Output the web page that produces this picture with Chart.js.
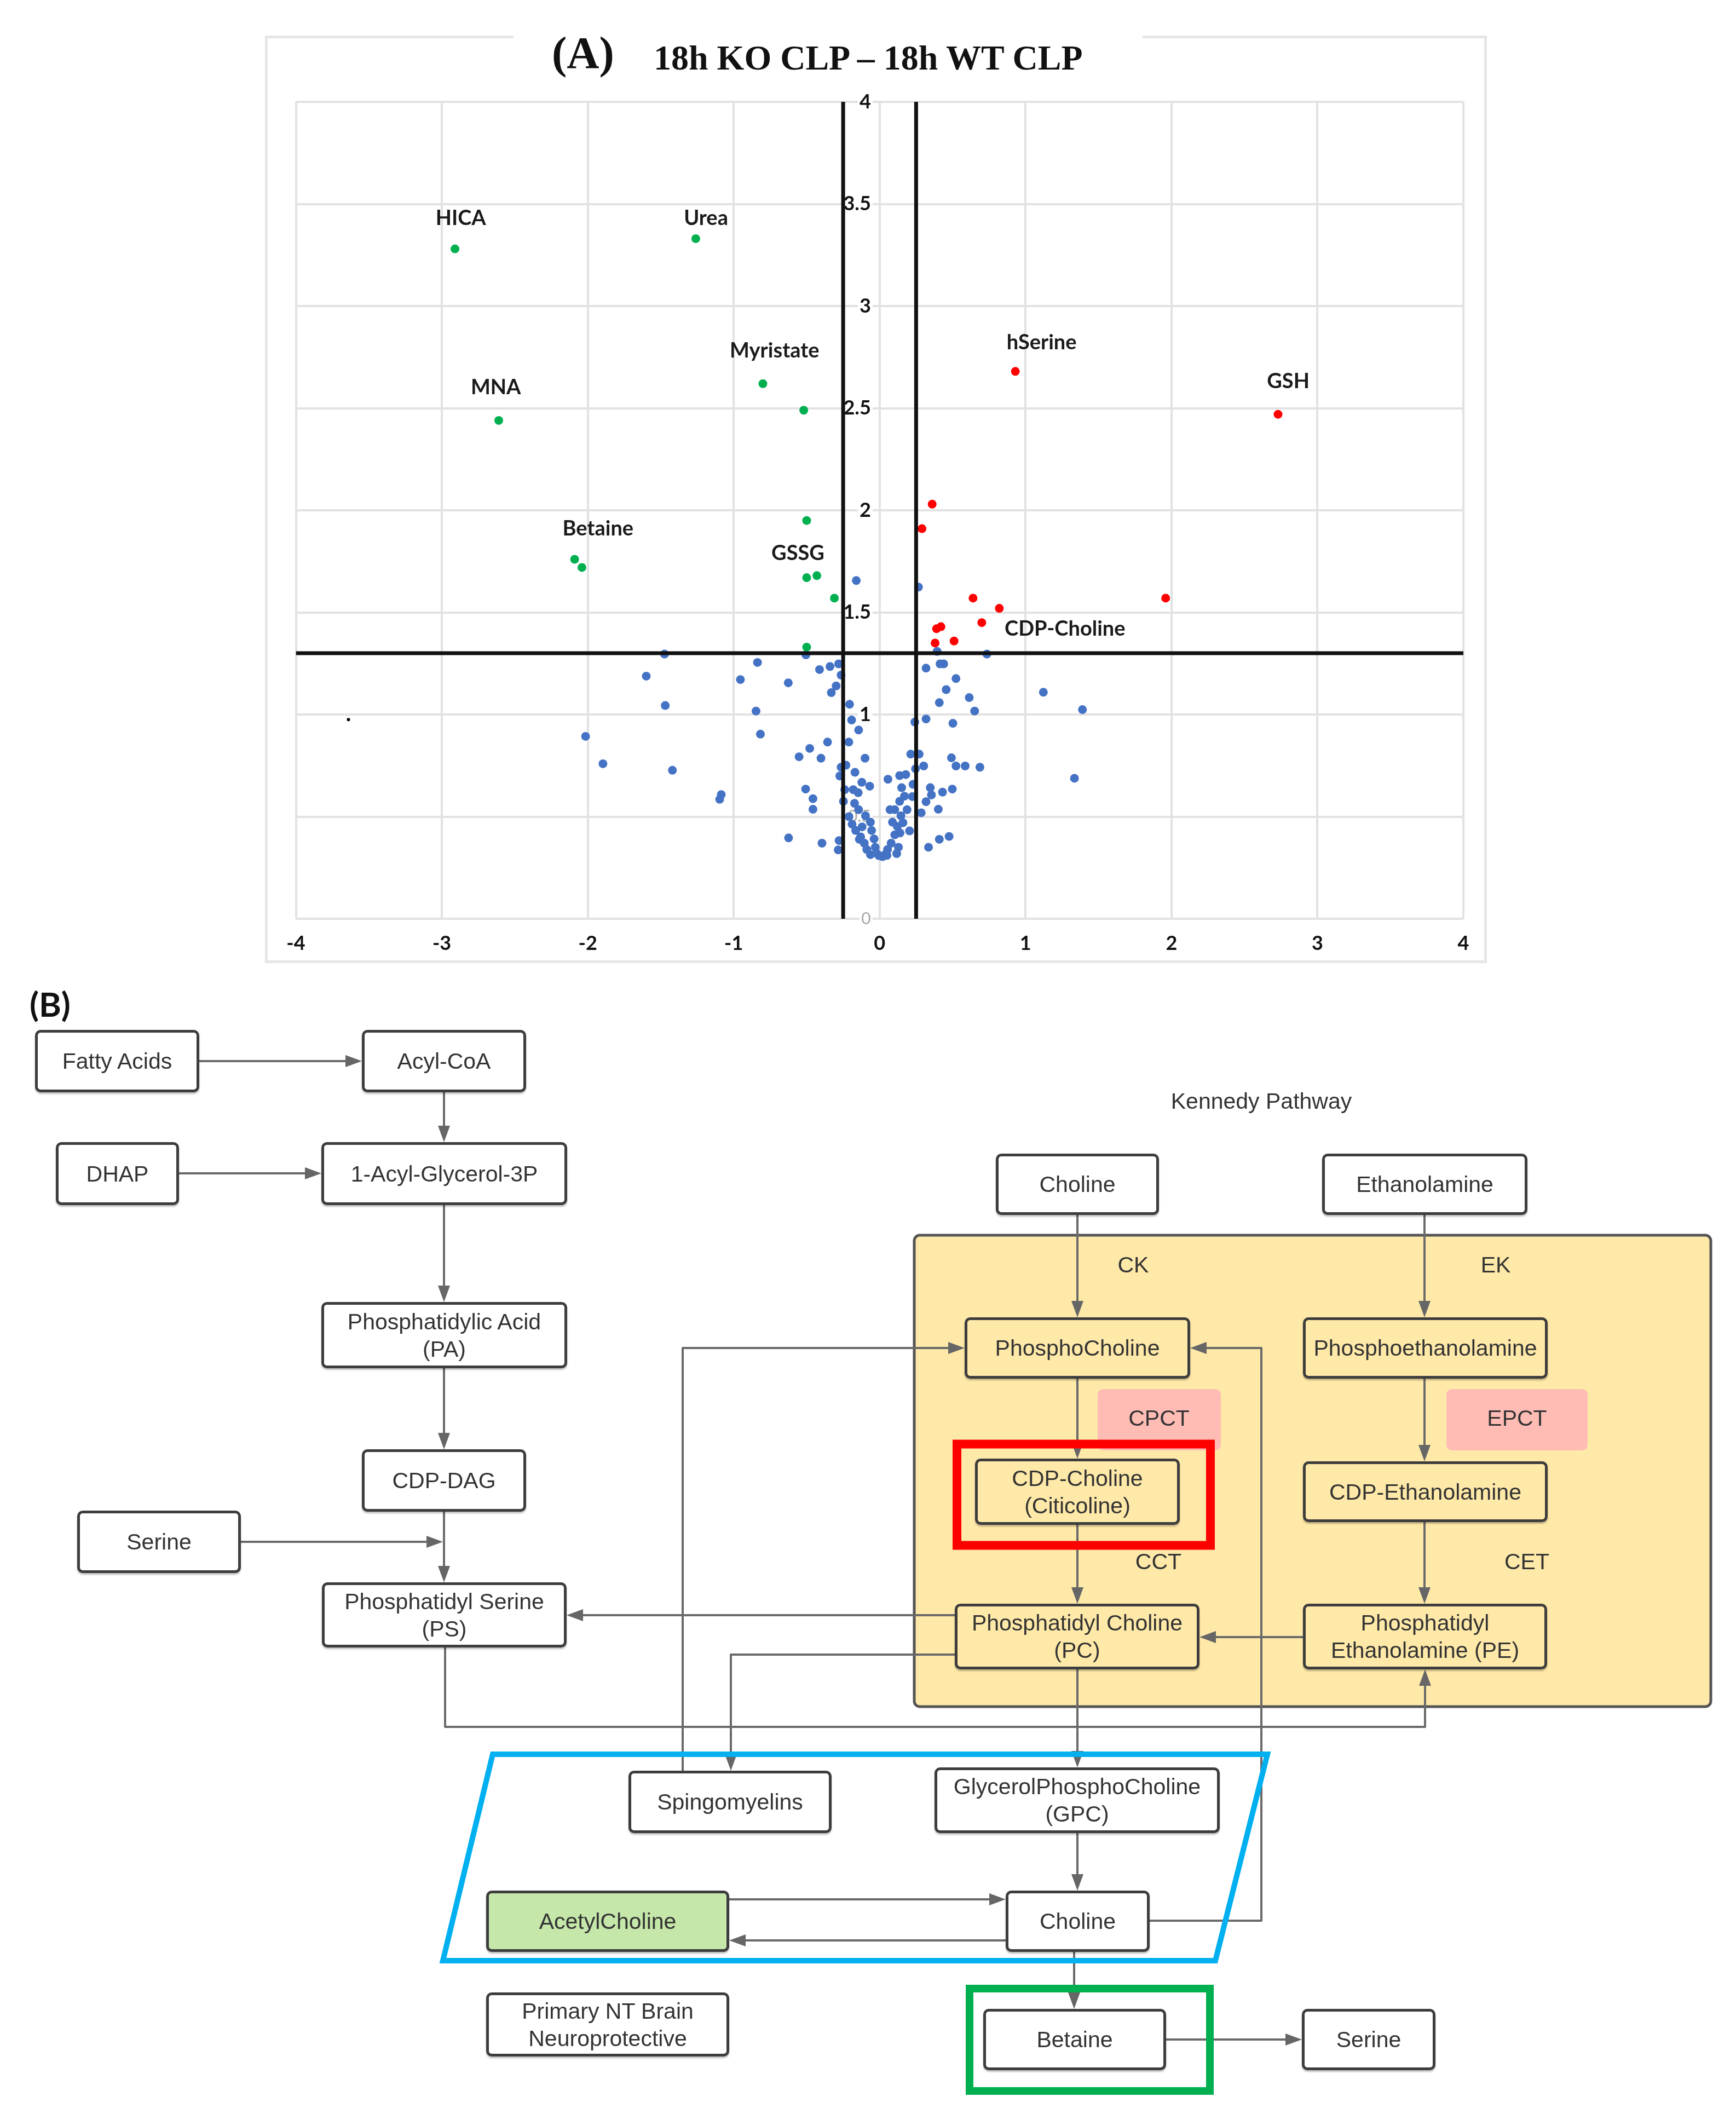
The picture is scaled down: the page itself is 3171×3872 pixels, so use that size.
<!DOCTYPE html>
<html>
<head>
<meta charset="utf-8">
<script src="https://cdn.jsdelivr.net/npm/chart.js"></script>
<style>
  html, body { margin: 0; padding: 0; background: #fff; }
  #page { position: relative; width: 3171px; height: 3872px; overflow: hidden; background: #fff; }
  .frame { position: absolute; left: 484px; top: 65px; width: 2232px; height: 1694px; border: 5px solid #e6e6e6; box-sizing: border-box; }
  #plotBox { position: absolute; left: 489px; top: 70px; width: 2222px; height: 1684px; }
  .gap { position: absolute; left: 938px; top: 58px; width: 1149px; height: 24px; background: #fff; }
  .ttl { position: absolute; font-family: "Liberation Serif", "Times New Roman", serif; font-weight: bold; color: #111; line-height: 1; white-space: nowrap; }
  svg { position: absolute; left: 0; top: 0; }
  .box { position: absolute; box-sizing: border-box; border: 5px solid #3d3d3d; border-radius: 10px;
         display: flex; align-items: center; justify-content: center; text-align: center;
         font-family: "Liberation Sans", Arial, sans-serif; font-size: 41px; line-height: 50px; color: #333;
         box-shadow: 0 3px 3px rgba(0,0,0,0.25); }
  .lbl { position: absolute; transform: translate(-50%, -50%); font-family: "Liberation Sans", Arial, sans-serif;
         font-size: 41px; color: #333; white-space: nowrap; }
  .panel { position: absolute; font-family: Lato, sans-serif; font-weight: bold; font-size: 62px; color: #111; }
</style>
</head>
<body>
<div id="page">
  <div class="frame"></div>
  <div id="plotBox"><canvas id="volcano"></canvas></div>
  <div class="gap"></div>
  <div class="ttl" style="left:1008px; top:56px; font-size:82px;">(A)</div>
  <div class="ttl" style="left:1194px; top:74px; font-size:64px;">18h KO CLP – 18h WT CLP</div>

  <div class="panel" style="left:54px; top:1796px;">(B)</div>
  <svg id="under" width="3171" height="3872"></svg>
  <div id="boxes"></div>
  <svg id="over" width="3171" height="3872"></svg>
</div>

<script>
// ---- volcano plot data (log2 fold change, -log10 p) ----
const xTickRange = [-4, 4];
const yTickRange = [0, 4];
const pCut = 1.3;
const fcCut = [-0.25, 0.25];

const upPoints = [
  [0.93, 2.68], [2.73, 2.47], [0.36, 2.03], [0.29, 1.91], [1.96, 1.57], [0.64, 1.57],
  [0.82, 1.52], [0.70, 1.45], [0.42, 1.43], [0.39, 1.42], [0.51, 1.36], [0.38, 1.35]
];

const downPoints = [
  [-2.91, 3.28], [-1.26, 3.33], [-0.80, 2.62], [-0.52, 2.49], [-2.61, 2.44], [-0.50, 1.95],
  [-2.09, 1.76], [-2.04, 1.72], [-0.50, 1.67], [-0.43, 1.68], [-0.31, 1.57], [-0.50, 1.33]
];

const otherPoints = [
  [-1.474, 1.296], [-1.599, 1.188], [-1.469, 1.044], [-2.015, 0.893], [-1.896, 0.759], [-1.420, 0.727],
  [-1.085, 0.608], [-1.096, 0.585],
  [-0.160, 1.656], [0.266, 1.624], [0.394, 1.309], [0.735, 1.296], [-0.505, 1.292], [-0.837, 1.255],
  [-0.954, 1.171], [-0.626, 1.155], [-0.412, 1.220], [-0.340, 1.235], [-0.281, 1.248], [-0.264, 1.193],
  [-0.298, 1.140], [-0.331, 1.107], [-0.206, 1.050], [-0.847, 1.017], [-0.192, 0.973], [-0.144, 0.924],
  [-0.817, 0.904], [-0.357, 0.865], [-0.211, 0.865], [-0.479, 0.834], [-0.552, 0.793], [-0.402, 0.786],
  [-0.100, 0.786],
  [0.318, 1.227], [0.414, 1.248], [0.439, 1.248], [0.523, 1.176], [0.456, 1.122], [0.614, 1.083],
  [0.409, 1.058], [0.651, 1.017], [1.122, 1.109], [1.390, 1.024], [0.318, 0.978], [0.241, 0.963],
  [0.502, 0.957], [1.335, 0.688], [0.213, 0.806], [0.271, 0.806], [0.492, 0.788], [0.523, 0.748],
  [0.586, 0.748], [0.687, 0.742], [0.302, 0.748], [0.246, 0.734],
  [-0.231, 0.752], [-0.264, 0.742], [-0.273, 0.699], [-0.169, 0.717], [0.057, 0.683], [0.137, 0.701],
  [0.179, 0.706], [-0.122, 0.668], [-0.068, 0.649], [-0.181, 0.632], [-0.147, 0.617], [-0.239, 0.632],
  [-0.507, 0.635], [-0.457, 0.588], [-0.457, 0.536], [-0.248, 0.575], [0.229, 0.658], [0.224, 0.598],
  [0.151, 0.642], [0.347, 0.642], [0.355, 0.606], [0.431, 0.620], [0.498, 0.635], [0.318, 0.573],
  [0.402, 0.536], [0.285, 0.519], [-0.172, 0.565], [-0.144, 0.534], [-0.624, 0.396], [-0.395, 0.370],
  [-0.278, 0.383], [-0.284, 0.337], [0.205, 0.430], [0.335, 0.350], [0.409, 0.389], [0.476, 0.403],
  [0.117, 0.319], [-0.139, 0.389],
  [-0.189, 0.463], [-0.164, 0.432], [-0.130, 0.401], [-0.105, 0.370], [-0.088, 0.339], [-0.063, 0.314],
  [-0.097, 0.504], [-0.063, 0.473], [-0.055, 0.432], [-0.038, 0.391], [-0.030, 0.350], [-0.005, 0.309],
  [0.020, 0.304], [0.104, 0.534], [0.137, 0.575], [0.146, 0.504], [0.121, 0.452], [0.104, 0.411],
  [0.079, 0.370], [0.054, 0.339], [0.037, 0.314], [0.088, 0.473], [0.071, 0.534], [0.188, 0.534],
  [0.129, 0.350], [-0.020, 0.320], [0.050, 0.310], [-0.120, 0.450], [0.140, 0.420], [0.160, 0.470],
  [-0.210, 0.500], [0.170, 0.600]
];

const strayPoints = [[-3.64, 0.975]];

const tagNames = ['HICA', 'Urea', 'Myristate', 'MNA', 'hSerine', 'GSH', 'Betaine', 'GSSG', 'CDP-Choline'];
const tagX = [-2.87, -1.19, -0.72, -2.63, 1.11, 2.80, -1.93, -0.56, 1.27];
const tagY = [3.43, 3.43, 2.78, 2.60, 2.82, 2.63, 1.91, 1.79, 1.42];

const toXY = arr => arr.map(p => ({ x: p[0], y: p[1] }));

const nameTags = {
  id: 'nameTags',
  afterDatasetsDraw(chart) {
    const { ctx, scales: { x, y } } = chart;
    ctx.save();
    ctx.font = 'bold 38px Lato';
    ctx.fillStyle = '#1a1a1a';
    ctx.textAlign = 'center';
    ctx.textBaseline = 'middle';
    tagNames.forEach((n, i) => ctx.fillText(n, x.getPixelForValue(tagX[i]), y.getPixelForValue(tagY[i])));
    ctx.restore();
  }
};

const cutLine = (data) => ({
  data, showLine: true, borderColor: '#111', borderWidth: 7, pointRadius: 0, order: 0
});

new Chart(document.getElementById('volcano'), {
  type: 'scatter',
  data: {
    datasets: [
      cutLine([{ x: xTickRange[0], y: pCut }, { x: xTickRange[1], y: pCut }]),
      cutLine([{ x: fcCut[0], y: yTickRange[0] }, { x: fcCut[0], y: yTickRange[1] }]),
      cutLine([{ x: fcCut[1], y: yTickRange[0] }, { x: fcCut[1], y: yTickRange[1] }]),
      { data: toXY(upPoints), backgroundColor: '#ff0000', pointRadius: 8, borderWidth: 0, order: 1 },
      { data: toXY(downPoints), backgroundColor: '#00b050', pointRadius: 8, borderWidth: 0, order: 2 },
      { data: toXY(otherPoints), backgroundColor: '#4472c4', pointRadius: 8, borderWidth: 0, order: 3 },
      { data: toXY(strayPoints), backgroundColor: '#000', pointRadius: 3, borderWidth: 0, order: 4 }
    ]
  },
  options: {
    responsive: true,
    maintainAspectRatio: false,
    animation: false,
    layout: { padding: { left: 51.5, right: 38, top: 116, bottom: 10 } },
    plugins: { legend: { display: false }, tooltip: { enabled: false } },
    scales: {
      x: {
        type: 'linear', min: xTickRange[0], max: xTickRange[1], position: 'bottom',
        ticks: { stepSize: 1, padding: 24, color: '#111', font: { family: 'Lato', weight: 'bold', size: 36 } },
        grid: { color: '#e2e2e2', lineWidth: 4, drawTicks: false },
        border: { display: false },
        afterFit: s => { s.height = 66; }
      },
      y: {
        type: 'linear', min: yTickRange[0], max: yTickRange[1], position: { x: -0.06 },
        ticks: {
          stepSize: 0.5, padding: 0,
          callback: v => String(v),
          color: c => (c.tick && c.tick.value >= 1) ? '#111' : '#a8a8a8',
          font: c => (c.tick && c.tick.value >= 1)
            ? { family: 'Lato', weight: 'bold', size: 36 }
            : { family: 'Lato', weight: 'normal', size: 30 },
          showLabelBackdrop: true, backdropColor: '#fff', backdropPadding: 3
        },
        grid: { color: '#e2e2e2', lineWidth: 4, drawTicks: false },
        border: { display: false },
        afterFit: s => { s.width = 0; }
      }
    }
  },
  plugins: [nameTags]
});

// ---- pathway diagram (B) ----
const NS = 'http://www.w3.org/2000/svg';
const under = document.getElementById('under');
const over = document.getElementById('over');
function el(svg, tag, attrs) {
  const e = document.createElementNS(NS, tag);
  for (const k in attrs) e.setAttribute(k, attrs[k]);
  svg.appendChild(e);
  return e;
}

// Kennedy pathway region and enzyme highlights
el(under, 'rect', { x: 1670, y: 2256, width: 1455, height: 861, rx: 10, fill: '#ffe9a8', stroke: '#555', 'stroke-width': 5 });
el(under, 'rect', { x: 2005, y: 2537, width: 225, height: 112, rx: 10, fill: '#ffbcb5' });
el(under, 'rect', { x: 2642, y: 2537, width: 258, height: 112, rx: 10, fill: '#ffbcb5' });

const links = [
  [[364, 1938], [661, 1938]],
  [[811, 1995], [811, 2086]],
  [[327, 2143], [587, 2143]],
  [[811, 2201], [811, 2378]],
  [[811, 2499], [811, 2647]],
  [[811, 2761], [811, 2890]],
  [[440, 2816], [809, 2816]],
  [[1744, 2950], [1035, 2950]],
  [[1744, 3022], [1335, 3022], [1335, 3234]],
  [[1247, 3234], [1247, 2462], [1762, 2462]],
  [[2100, 3508], [2304, 3508], [2304, 2462], [2174, 2462]],
  [[813, 3009], [813, 3154], [2603, 3154], [2603, 3049]],
  [[2380, 2990], [2191, 2990]],
  [[1968, 3049], [1968, 3228]],
  [[1968, 3348], [1968, 3453]],
  [[1837, 3544], [1332, 3544]],
  [[1332, 3469], [1837, 3469]],
  [[1962, 3565], [1962, 3669]],
  [[2130, 3725], [2378, 3725]],
  [[1968, 2219], [1968, 2406]],
  [[2602, 2219], [2602, 2406]],
  [[1968, 2518], [1968, 2664]],
  [[2602, 2518], [2602, 2669]],
  [[1968, 2785], [1968, 2929]],
  [[2602, 2780], [2602, 2929]]
];
links.forEach(pts => {
  const n = pts.length;
  const [ex, ey] = pts[n - 1];
  const [px, py] = pts[n - 2];
  const len = Math.hypot(ex - px, ey - py);
  const ux = (ex - px) / len, uy = (ey - py) / len;
  const head = 30, half = 11;
  const bx = ex - ux * head, by = ey - uy * head;
  const line = pts.slice(0, n - 1).concat([[bx + ux * 2, by + uy * 2]]);
  el(under, 'polyline', { points: line.map(p => p.join(',')).join(' '), fill: 'none', stroke: '#6a6a6a', 'stroke-width': 4, 'stroke-linejoin': 'round' });
  el(under, 'polygon', {
    points: [[ex, ey], [bx - uy * half, by + ux * half], [bx + uy * half, by - ux * half]].map(p => p.join(',')).join(' '),
    fill: '#666'
  });
});

const boxes = [
  ['Fatty Acids', 64, 1881, 364, 1995, '#fff'],
  ['Acyl-CoA', 661, 1881, 961, 1995, '#fff'],
  ['DHAP', 102, 2086, 327, 2201, '#fff'],
  ['1-Acyl-Glycerol-3P', 587, 2086, 1036, 2201, '#fff'],
  ['Phosphatidylic Acid<br>(PA)', 587, 2378, 1036, 2499, '#fff'],
  ['CDP-DAG', 661, 2647, 961, 2761, '#fff'],
  ['Serine', 141, 2759, 440, 2873, '#fff'],
  ['Phosphatidyl Serine<br>(PS)', 588, 2890, 1035, 3009, '#fff'],
  ['Choline', 1819, 2107, 2117, 2219, '#fff'],
  ['Ethanolamine', 2415, 2107, 2790, 2219, '#fff'],
  ['PhosphoCholine', 1762, 2406, 2174, 2518, 'transparent'],
  ['Phosphoethanolamine', 2380, 2406, 2827, 2518, 'transparent'],
  ['CDP-Choline<br>(Citicoline)', 1781, 2664, 2155, 2785, 'transparent'],
  ['CDP-Ethanolamine', 2380, 2669, 2827, 2780, 'transparent'],
  ['Phosphatidyl Choline<br>(PC)', 1744, 2929, 2191, 3049, 'transparent'],
  ['Phosphatidyl<br>Ethanolamine (PE)', 2380, 2929, 2826, 3049, 'transparent'],
  ['Spingomyelins', 1148, 3234, 1519, 3348, '#fff'],
  ['GlycerolPhosphoCholine<br>(GPC)', 1707, 3228, 2228, 3348, '#fff'],
  ['AcetylCholine', 888, 3453, 1332, 3565, '#c5e7a9'],
  ['Choline', 1837, 3453, 2100, 3565, '#fff'],
  ['Primary NT Brain<br>Neuroprotective', 888, 3639, 1332, 3756, '#fff'],
  ['Betaine', 1796, 3669, 2130, 3781, '#fff'],
  ['Serine', 2378, 3669, 2622, 3781, '#fff']
];
const boxLayer = document.getElementById('boxes');
boxes.forEach(([t, x1, y1, x2, y2, fill]) => {
  const d = document.createElement('div');
  d.className = 'box';
  d.style.cssText = `left:${x1}px;top:${y1}px;width:${x2 - x1}px;height:${y2 - y1}px;background:${fill};`;
  d.innerHTML = t;
  boxLayer.appendChild(d);
});

const notes = [
  ['Kennedy Pathway', 2304, 2011], ['CK', 2070, 2310], ['EK', 2732, 2310],
  ['CPCT', 2117, 2590], ['EPCT', 2771, 2590], ['CCT', 2116, 2852], ['CET', 2789, 2852]
];
notes.forEach(([t, x, y]) => {
  const d = document.createElement('div');
  d.className = 'lbl';
  d.style.left = x + 'px';
  d.style.top = y + 'px';
  d.textContent = t;
  boxLayer.appendChild(d);
});

// highlight outlines
el(over, 'rect', { x: 1748, y: 2637.5, width: 463, height: 185, fill: 'none', stroke: '#ff0000', 'stroke-width': 16 });
el(over, 'rect', { x: 1771, y: 3632, width: 439, height: 187, fill: 'none', stroke: '#00b050', 'stroke-width': 14 });
el(over, 'polygon', { points: '900,3204 2315,3204 2220,3581 809,3581', fill: 'none', stroke: '#00b0f0', 'stroke-width': 10 });
</script>
</body>
</html>
